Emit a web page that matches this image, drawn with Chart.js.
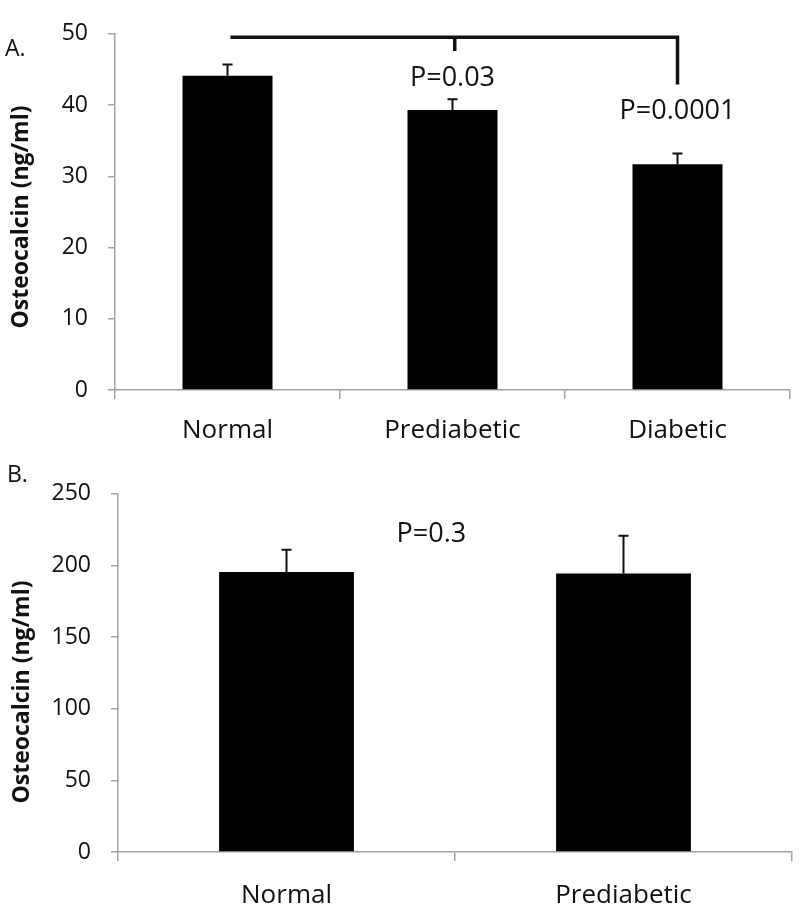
<!DOCTYPE html>
<html>
<head>
<meta charset="utf-8">
<script src="https://cdn.jsdelivr.net/npm/chart.js@4.4.1/dist/chart.umd.min.js"></script>
<style>
  html, body { margin: 0; padding: 0; background: #fff; }
  #wrap { position: relative; width: 800px; height: 911px; }
  canvas { position: absolute; left: 0; }
  #chartA { top: 0; }
  #chartB { top: 460px; }
</style>
</head>
<body>
<div id="wrap">
  <canvas id="chartA" width="800" height="460"></canvas>
  <canvas id="chartB" width="800" height="451"></canvas>
</div>
<script>
// panel A
const categoriesA = ['Normal', 'Prediabetic', 'Diabetic'];
const meansA = [44.1, 39.3, 31.7];
const errorsA = [1.6, 1.5, 1.5];
const pTextA = ['P=0.03', 'P=0.0001'];

// panel B
const categoriesB = ['Normal', 'Prediabetic'];
const meansB = [195.5, 194.3];
const errorsB = [15.5, 26.5];
const pTextB = ['P=0.3'];

const FONT = '"Open Sans", "Noto Sans", sans-serif';
const AXIS_GREY = '#a3a3a3';

// error bars (upper half only) on top of each bar
const errorBars = {
    id: 'errorBars',
    afterDatasetsDraw(chart, args, opts) {
        const ctx = chart.ctx;
        const y = chart.scales.y;
        const meta = chart.getDatasetMeta(0);
        ctx.save();
        ctx.strokeStyle = '#111';
        ctx.lineWidth = 2;
        meta.data.forEach((bar, i) => {
            const top = y.getPixelForValue(opts.values[i] + opts.errors[i]);
            ctx.beginPath();
            ctx.moveTo(bar.x, bar.y);
            ctx.lineTo(bar.x, top);
            ctx.moveTo(bar.x - 5, top);
            ctx.lineTo(bar.x + 5, top);
            ctx.stroke();
        });
        ctx.restore();
    }
};

// panel letter, rotated y title, p-values and the significance bracket
const extras = {
    id: 'extras',
    afterDraw(chart, args, opts) {
        const ctx = chart.ctx;
        const x = chart.scales.x;
        const y = chart.scales.y;
        ctx.save();
        ctx.fillStyle = '#111';

        ctx.font = '23px ' + FONT;
        ctx.textAlign = 'left';
        ctx.textBaseline = 'alphabetic';
        ctx.fillText(opts.letter, opts.letterPos[0], opts.letterPos[1]);

        ctx.save();
        ctx.translate(opts.titlePos[0], opts.titlePos[1]);
        ctx.rotate(-Math.PI / 2);
        ctx.font = 'bold 23px ' + FONT;
        ctx.textAlign = 'center';
        ctx.fillText('Osteocalcin (ng/ml)', 0, 0);
        ctx.restore();

        ctx.font = '27px ' + FONT;
        ctx.textAlign = 'center';
        ctx.textBaseline = 'middle';
        opts.pLabels.forEach((p) => {
            ctx.fillText(p.text, x.getPixelForValue(p.x), y.getPixelForValue(p.y));
        });

        if (opts.bracket) {
            const b = opts.bracket;
            ctx.strokeStyle = '#111';
            ctx.lineWidth = 3.5;
            const yTop = y.getPixelForValue(b.y);
            ctx.beginPath();
            ctx.moveTo(x.getPixelForValue(b.x0), yTop);
            ctx.lineTo(x.getPixelForValue(b.x1), yTop);
            ctx.lineTo(x.getPixelForValue(b.x1), y.getPixelForValue(b.rightEnd));
            ctx.moveTo(x.getPixelForValue(b.mid), yTop);
            ctx.lineTo(x.getPixelForValue(b.mid), y.getPixelForValue(b.midEnd));
            ctx.stroke();
        }
        ctx.restore();
    }
};

function makeChart(id, labels, values, errors, yMax, step, yWidth, xHeight, pad, xPad, extraOpts) {
    return new Chart(document.getElementById(id), {
        type: 'bar',
        data: {
            labels: labels,
            datasets: [{
                data: values,
                backgroundColor: '#000',
                borderColor: '#000',
                borderWidth: 0,
                barPercentage: 0.4,
                categoryPercentage: 1.0
            }]
        },
        options: {
            responsive: false,
            animation: false,
            layout: { padding: pad },
            plugins: {
                legend: { display: false },
                tooltip: { enabled: false },
                errorBars: { values: values, errors: errors },
                extras: extraOpts
            },
            scales: {
                x: {
                    offset: true,
                    grid: { offset: true, drawOnChartArea: false, drawTicks: true, tickLength: 9, color: AXIS_GREY, lineWidth: 1.5 },
                    border: { display: true, color: AXIS_GREY, width: 1.5 },
                    ticks: { color: '#111', padding: xPad, font: { family: FONT, size: 26 }, maxRotation: 0 },
                    afterFit: (s) => { s.height = xHeight; }
                },
                y: {
                    min: 0,
                    max: yMax,
                    grid: { drawOnChartArea: false, drawTicks: true, tickLength: 7, color: AXIS_GREY, lineWidth: 1.5 },
                    border: { display: true, color: AXIS_GREY, width: 1.5 },
                    ticks: { stepSize: step, color: '#111', padding: 20, font: { family: FONT, size: 23 } },
                    afterFit: (s) => { s.width = yWidth; }
                }
            }
        },
        plugins: [errorBars, extras]
    });
}

makeChart('chartA', categoriesA, meansA, errorsA, 50, 10, 115, 70,
    { top: 13, right: 10, left: 0, bottom: 0 }, 16, {
        letter: 'A.',
        letterPos: [5, 56],
        titlePos: [28, 217],
        pLabels: [
            { text: pTextA[0], x: 1, y: 43.8 },
            { text: pTextA[1], x: 2, y: 39.1 }
        ],
        bracket: { x0: 0.013, x1: 2.0, y: 49.5, mid: 1.01, midEnd: 47.6, rightEnd: 42.9 }
    });

makeChart('chartB', categoriesB, meansB, errorsB, 250, 50, 118, 59,
    { top: 29, right: 8, left: 0, bottom: 0 }, 19, {
        letter: 'B.',
        letterPos: [7, 22],
        titlePos: [29, 232],
        pLabels: [
            { text: pTextB[0], x: 0.43, y: 222 }
        ],
        bracket: null
    });
</script>
</body>
</html>
